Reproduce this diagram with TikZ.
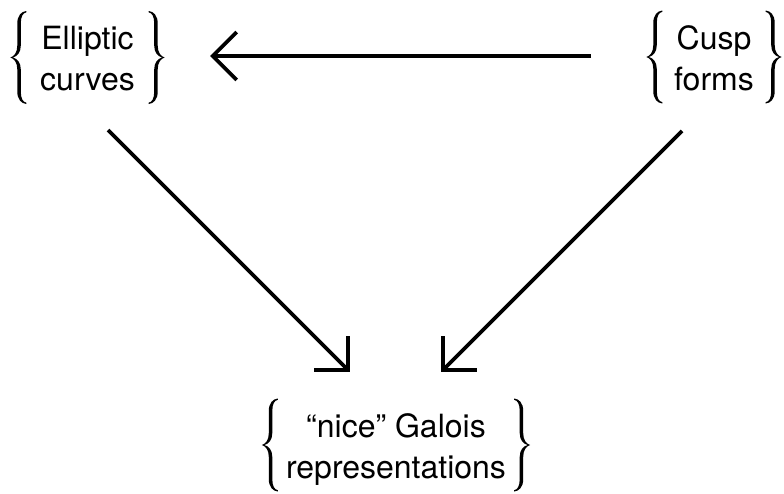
\documentclass[tikz,border=0pt]{standalone}
\usepackage{fontspec}
\setmainfont{TeX Gyre Heros}
\usetikzlibrary{arrows.meta,calc}
\begin{document}
\begin{tikzpicture}[x=1pt,y=-1pt,
  setnode/.style={inner sep=0pt, align=center, text height=66pt, text depth=0pt,
    font=\fontsize{32}{41}\selectfont},
  arr/.style={line width=3.8pt, -{Straight Barb[length=24pt,width=48pt]}},
  % a tapered left curly brace, its middle point at the origin
  cbrace/.pic={
    \fill (16,-46.5) .. controls (11,-46) and (7,-42) .. (7,-34) -- (7,-12)
      .. controls (7,-5) and (4,-1.2) .. (0,0)
      .. controls (4,1.2) and (7,5) .. (7,12) -- (7,34)
      .. controls (7,42) and (11,46) .. (16,46.5) -- (16,45.2)
      .. controls (12.5,44.5) and (10.5,41) .. (10.5,34) -- (10.5,12)
      .. controls (10.5,5) and (7,1.2) .. (2.6,0)
      .. controls (7,-1.2) and (10.5,-5) .. (10.5,-12) -- (10.5,-34)
      .. controls (10.5,-41) and (12.5,-44.5) .. (16,-45.2) -- cycle;
  }]
\useasboundingbox (0,0) rectangle (784,493);

\node[setnode, minimum width=154pt] (ec) at (87.5,57.5) {Elliptic\\curves};
\node[setnode, minimum width=135pt] (cf) at (714,57) {Cusp\\forms};
\node[setnode, minimum width=268pt] (gr) at (396,445) {“nice” Galois\\representations};

% braces on both sides of each set
\foreach \n in {ec,cf,gr} {
  \pic at (\n.west) {cbrace};
  \pic[xscale=-1] at (\n.east) {cbrace};
}

\draw[arr, shorten <=123pt, shorten >=122.5pt] ($(cf.center)+(0,-1)$) -- ($(ec.center)+(0,-1.5)$);
\draw[arr] ($(ec.center)+(20.5,72.5)$) -- ($(gr.center)+(-46,-73)$);
\draw[arr] ($(cf.center)+(-32,74)$) -- ($(gr.center)+(45,-73)$);
\end{tikzpicture}
\end{document}
